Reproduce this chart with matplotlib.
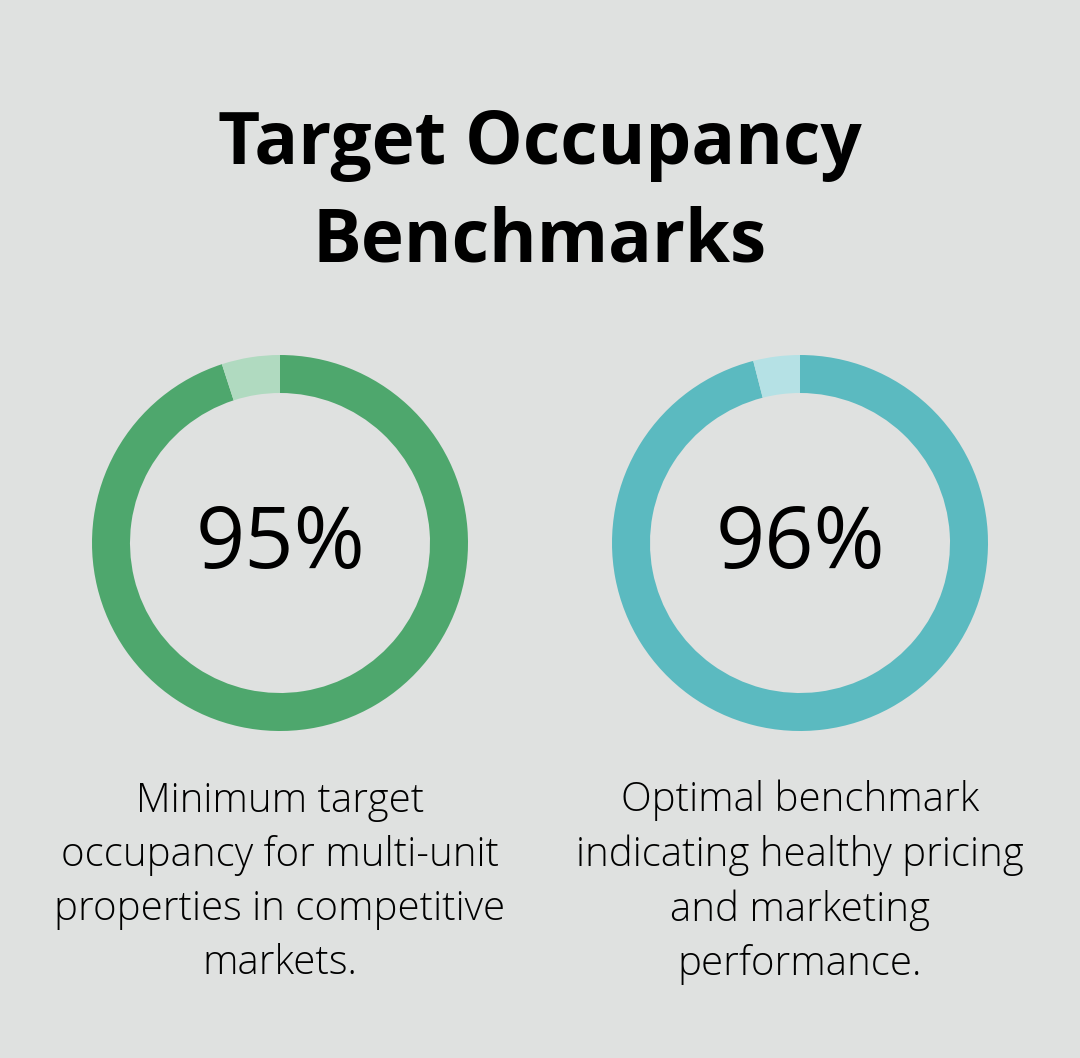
import matplotlib
matplotlib.use("Agg")
import matplotlib.pyplot as plt

title_lines = ["Target Occupancy", "Benchmarks"]
values = [95, 96]
labels = ["95%", "96%"]
descriptions = [
    "Minimum target\noccupancy for multi-unit\nproperties in competitive\nmarkets.",
    "Optimal benchmark\nindicating healthy pricing\nand marketing\nperformance.",
]
main_colors = ["#4EA76D", "#5BBAC0"]
light_colors = ["#B0DAC0", "#B5E1E5"]
bg = "#DFE1E0"

W, H = 1080, 1058
fig = plt.figure(figsize=(W / 100, H / 100), dpi=100, facecolor=bg)
ax = fig.add_axes([0, 0, 1, 1])
ax.set_facecolor(bg)

fam = ["Open Sans", "DejaVu Sans"]
ax.text(W / 2, H - 145, title_lines[0], ha="center", va="center", fontsize=52.4,
        fontweight="bold", family=fam, color="#000000")
ax.text(W / 2, H - 242, title_lines[1], ha="center", va="center", fontsize=52.4,
        fontweight="bold", family=fam, color="#000000")

centers_x = [280, 800]
cy = H - 543
for i, v in enumerate(values):
    ax.pie([v, 100 - v], colors=[main_colors[i], light_colors[i]], startangle=90,
           counterclock=False, radius=188, center=(centers_x[i], cy),
           wedgeprops=dict(width=38, edgecolor="none", linewidth=0), frame=True)
    ax.text(centers_x[i], cy - 3, labels[i], ha="center", va="center", fontsize=62,
            family=fam, color="#000000")
    ax.text(centers_x[i], H - 882.5, descriptions[i], ha="center", va="center",
            fontsize=28.9, family=fam, fontweight="light", color="#000000",
            linespacing=1.43)

ax.set_xlim(0, W)
ax.set_ylim(0, H)
ax.set_aspect("equal")
ax.axis("off")
fig.savefig("out.png", dpi=100, facecolor=bg)
